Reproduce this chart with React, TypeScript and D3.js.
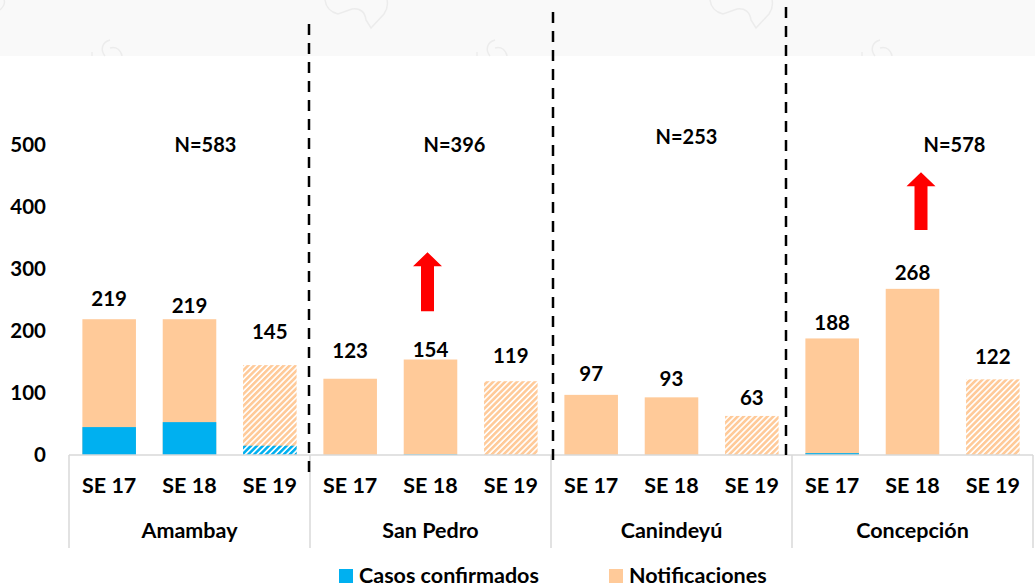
import React from "react";
import * as d3 from "d3";

// ---------- data ----------
const weeks = ["SE 17", "SE 18", "SE 19"];
const departments = ["Amambay", "San Pedro", "Canindeyú", "Concepción"];
const notificaciones = [219, 219, 145, 123, 154, 119, 97, 93, 63, 188, 268, 122];
const confirmados = [45, 53, 15, 0, 1, 0, 0, 0, 0, 3, 0, 0];
const totalLabels = ["N=583", "N=396", "N=253", "N=578"];
const yTicks = [0, 100, 200, 300, 400, 500];
const projectedWeek = "SE 19"; // hatched (incomplete week)
const arrows = [
  { dept: "San Pedro", week: "SE 18", from: 232, to: 327 },
  { dept: "Concepción", week: "SE 18", from: 363, to: 456 },
];
const legendItems = ["Casos confirmados", "Notificaciones"];

// ---------- layout / style ----------
const W = 1035;
const H = 587;
const X0 = 69;
const X1 = 1033;
const AXIS_Y = 455;
const TOP_Y = 145;
const AXIS_BOTTOM = 548;
const BLUE = "#00B0F0";
const PEACH = "#FFCA99";
const FONT = "Lato, 'Open Sans', sans-serif";
const labelLift = [20, 13, 33, 28, 10, 25, 21, 19, 18, 16, 16, 23];
const nLabelNudge = [
  { dx: 16, v: 500 },
  { dx: 24, v: 500 },
  { dx: 15, v: 513 },
  { dx: 42, v: 500 },
];
const arrowNudge = [-3, 8.5];
const dividers = [
  { after: 0, dx: -1, top: 24, bottom: 480 },
  { after: 1, dx: 2, top: 12, bottom: 467 },
  { after: 2, dx: -6, top: 7, bottom: 463 },
];

export default function App() {
  const keys: string[] = [];
  departments.forEach((d) => weeks.forEach((w) => keys.push(d + "|" + w)));

  const x = d3
    .scaleBand<string>()
    .domain(keys)
    .range([X0, X1])
    .paddingInner(1 / 3)
    .paddingOuter(1 / 6);
  const y = d3.scaleLinear().domain([0, 500]).range([AXIS_Y, TOP_Y]);
  const g = d3
    .scaleBand<string>()
    .domain(departments)
    .range([X0, X1]);

  const bw = x.bandwidth();

  const arrowPath = (cx: number, yBottom: number, yTop: number) => {
    const p = d3.path();
    const hw = 14.5;
    const hh = 14;
    const sw = 6.5;
    p.moveTo(cx, yTop);
    p.lineTo(cx + hw, yTop + hh);
    p.lineTo(cx + sw, yTop + hh);
    p.lineTo(cx + sw, yBottom);
    p.lineTo(cx - sw, yBottom);
    p.lineTo(cx - sw, yTop + hh);
    p.lineTo(cx - hw, yTop + hh);
    p.closePath();
    return p.toString();
  };

  const txt = (size: number) => ({
    fontFamily: FONT,
    fontWeight: 700 as const,
    fontSize: size,
    fill: "#000",
  });

  return (
    <div style={{ position: "fixed", left: 0, top: 0 }}>
      <svg width={W} height={H} viewBox={`0 0 ${W} ${H}`} style={{ display: "block", background: "#fff" }}>
        <defs>
          <pattern id="hatchPeach" width="4.2" height="4.2" patternUnits="userSpaceOnUse" patternTransform="rotate(45)">
            <rect width="4.2" height="4.2" fill="#fff" />
            <rect width="2.6" height="4.2" fill={PEACH} />
          </pattern>
          <pattern id="hatchBlue" width="4.2" height="4.2" patternUnits="userSpaceOnUse" patternTransform="rotate(45)">
            <rect width="4.2" height="4.2" fill="#fff" />
            <rect width="2.6" height="4.2" fill={BLUE} />
          </pattern>
        </defs>

        {/* faint watermark band */}
        <rect x={0} y={0} width={W} height={56} fill="#f9f9f9" />
        {[0, 1, 2].map((i) => {
          const ox = i * 385;
          return (
            <g key={i} fill="none" stroke="#ececec" strokeWidth={1.5}>
              <path d={`M${ox + 325},0 C${ox + 326},8 ${ox + 330},12 ${ox + 338},14 L${ox + 352},9 C${ox + 360},8 ${ox + 365},12 ${ox + 366},20 L${ox + 371},28 L${ox + 384},14 C${ox + 388},8 ${ox + 388},4 ${ox + 387},0`} />
              <path d={`M${ox + 105},56 C${ox + 100},50 ${ox + 102},42 ${ox + 110},40 M${ox + 110},48 C${ox + 116},46 ${ox + 121},50 ${ox + 122},56`} />
              <path d={`M${ox + 92},52 L${ox + 92},56`} />
            </g>
          );
        })}
        <path d="M0,10 C4,6 5,2 4,0" fill="none" stroke="#ececec" strokeWidth={1.5} />

        {/* bars */}
        {keys.map((k, i) => {
          const [, wk] = k.split("|");
          const hatched = wk === projectedWeek;
          const bx = x(k)!;
          const top = y(notificaciones[i]);
          const ctop = y(confirmados[i]);
          return (
            <g key={k}>
              <rect x={bx} y={top} width={bw} height={AXIS_Y - top} fill={hatched ? "url(#hatchPeach)" : PEACH} />
              {confirmados[i] > 0 && (
                <rect x={bx} y={ctop} width={bw} height={AXIS_Y - ctop} fill={hatched ? "url(#hatchBlue)" : BLUE} />
              )}
              <text x={bx + bw / 2} y={top - labelLift[i]} dy="0.35em" textAnchor="middle" {...txt(20.5)}>
                {notificaciones[i]}
              </text>
              <text x={bx + bw / 2} y={493} textAnchor="middle" {...txt(21.5)}>
                {wk}
              </text>
            </g>
          );
        })}

        {/* category axis box */}
        <line x1={X0} x2={X1} y1={AXIS_Y} y2={AXIS_Y} stroke="#d9d9d9" strokeWidth={1.5} />
        {[...departments.map((d) => g(d)!), X1].map((bx, i) => (
          <line key={i} x1={bx} x2={bx} y1={AXIS_Y} y2={AXIS_BOTTOM} stroke="#d9d9d9" strokeWidth={1.5} />
        ))}
        {departments.map((d) => (
          <text key={d} x={g(d)! + g.bandwidth() / 2} y={538} textAnchor="middle" {...txt(21.5)}>
            {d}
          </text>
        ))}

        {/* y ticks */}
        {yTicks.map((t) => (
          <text key={t} x={46} y={y(t)} dy="0.35em" textAnchor="end" {...txt(20.5)}>
            {t}
          </text>
        ))}

        {/* N labels */}
        {departments.map((d, i) => (
          <text
            key={d}
            x={g(d)! + g.bandwidth() / 2 + nLabelNudge[i].dx}
            y={y(nLabelNudge[i].v)}
            dy="0.35em"
            textAnchor="middle"
            {...txt(20)}
          >
            {totalLabels[i]}
          </text>
        ))}

        {/* dashed dividers */}
        {dividers.map((dv, i) => {
          const bx = g(departments[dv.after + 1])! + dv.dx;
          return (
            <line key={i} x1={bx} x2={bx} y1={dv.top} y2={dv.bottom} stroke="#000" strokeWidth={2.5} strokeDasharray="11 8" />
          );
        })}

        {/* arrows */}
        {arrows.map((a, i) => {
          const cx = x(a.dept + "|" + a.week)! + bw / 2 + arrowNudge[i];
          return <path key={i} d={arrowPath(cx, y(a.from), y(a.to))} fill="#FF0000" />;
        })}

        {/* legend */}
        <rect x={339} y={569} width={14} height={14} fill={BLUE} />
        <text x={359} y={583} {...txt(21.5)}>
          {legendItems[0]}
        </text>
        <rect x={609} y={569} width={14} height={14} fill={PEACH} />
        <text x={629} y={583} {...txt(21.5)}>
          {legendItems[1]}
        </text>
      </svg>
    </div>
  );
}
